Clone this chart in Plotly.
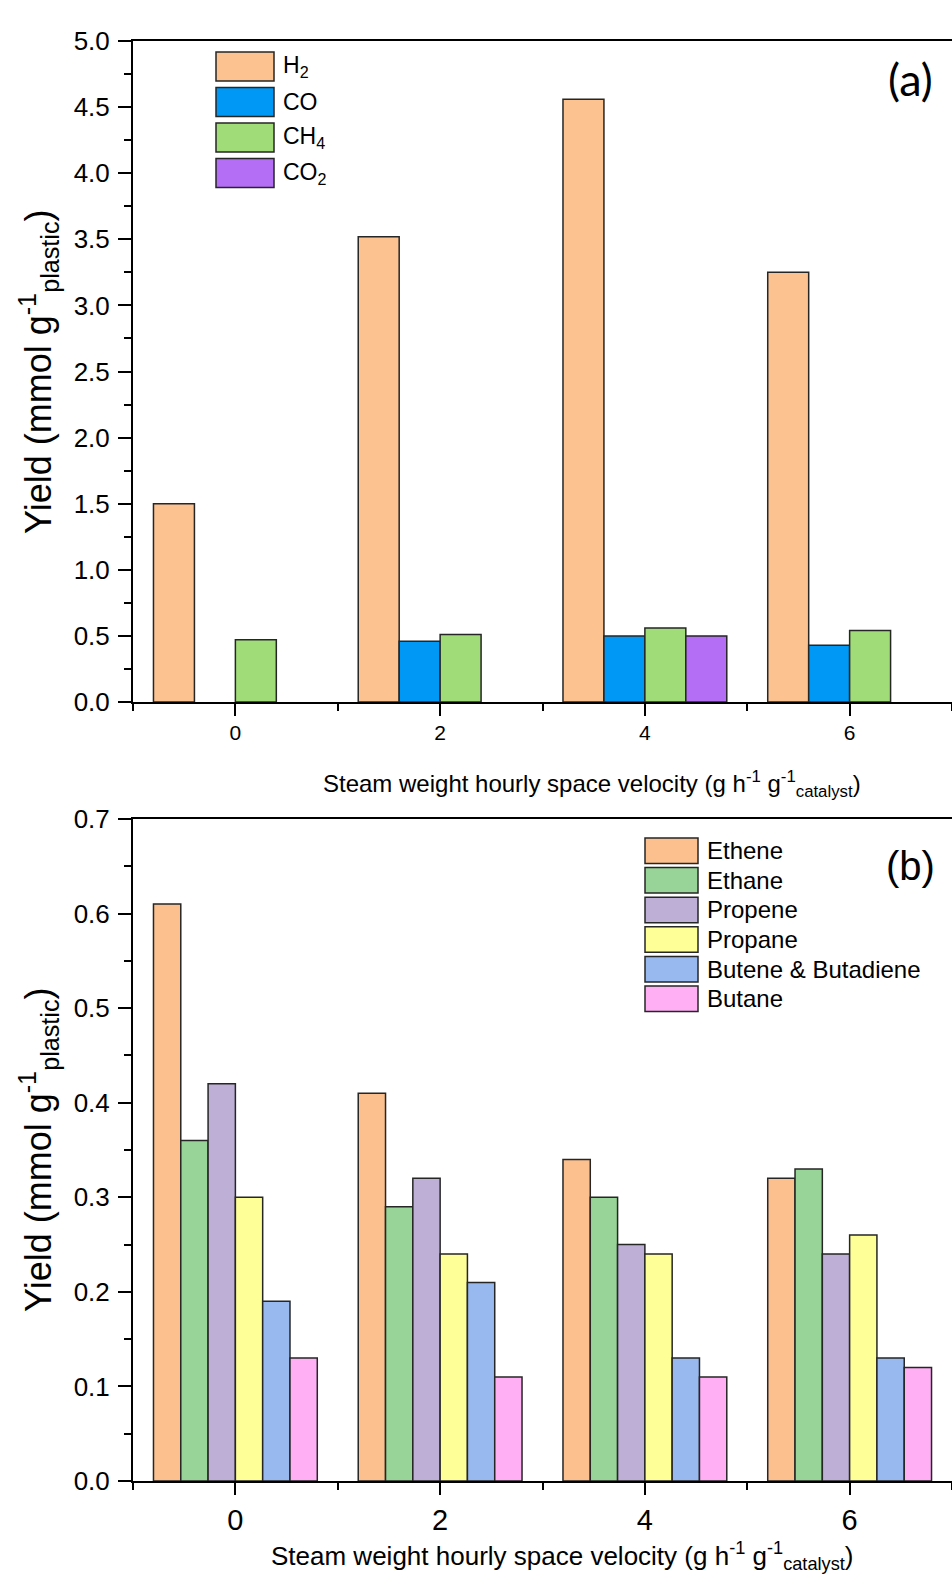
import plotly.graph_objects as go

# ---------------- data ----------------
x_vals = [0, 2, 4, 6]

gas_names = ["H<sub>2</sub>", "CO", "CH<sub>4</sub>", "CO<sub>2</sub>"]
h2 = [1.50, 3.52, 4.56, 3.25]
co = [None, 0.46, 0.50, 0.43]
ch4 = [0.47, 0.51, 0.56, 0.54]
co2 = [None, None, 0.50, None]
gas_series = [h2, co, ch4, co2]
gas_colors = ["#FCC290", "#0098F5", "#A0DC78", "#B46EF5"]

hc_names = ["Ethene", "Ethane", "Propene", "Propane", "Butene &amp; Butadiene", "Butane"]
ethene = [0.61, 0.41, 0.34, 0.32]
ethane = [0.36, 0.29, 0.30, 0.33]
propene = [0.42, 0.32, 0.25, 0.24]
propane = [0.30, 0.24, 0.24, 0.26]
butene = [0.19, 0.21, 0.13, 0.13]
butane = [0.13, 0.11, 0.11, 0.12]
hc_series = [ethene, ethane, propene, propane, butene, butane]
hc_colors = ["#FBC08E", "#98D498", "#BEAFD7", "#FFFF98", "#98B9EF", "#FFB0F5"]

y_title = "Yield (mmol g<sup>-1</sup><sub>plastic</sub>)"
x_title = "Steam weight hourly space velocity (g h<sup>-1</sup> g<sup>-1</sup><sub>catalyst</sub>)"

# ---------------- layout helpers ----------------
W, H = 952, 1578
FONT = 'Arial, "Liberation Sans", sans-serif'


def px(x):
    return x / W


def py(y):
    return 1 - y / H


fig = go.Figure()

for name, vals, col in zip(gas_names, gas_series, gas_colors):
    fig.add_trace(go.Bar(x=x_vals, y=vals, name=name, marker_color=col,
                         marker_line_color="#262626", marker_line_width=1.5,
                         xaxis="x", yaxis="y", showlegend=False))

for name, vals, col in zip(hc_names, hc_series, hc_colors):
    fig.add_trace(go.Bar(x=x_vals, y=vals, name=name, marker_color=col,
                         marker_line_color="#262626", marker_line_width=1.5,
                         xaxis="x2", yaxis="y2", showlegend=False))

axis_common = dict(showline=True, linecolor="black", linewidth=2, showgrid=False,
                   zeroline=False, ticks="outside", tickcolor="black", tickwidth=2,
                   automargin=False)

x_dom = [px(133), 1.0]
ya_dom = [py(702), py(41)]
yb_dom = [py(1481), py(819)]

fig.update_layout(
    width=W, height=H, margin=dict(l=0, r=0, t=0, b=0, pad=0, autoexpand=False),
    paper_bgcolor="white", plot_bgcolor="white",
    font=dict(family=FONT, color="black"),
    barmode="group", bargap=0.2, bargroupgap=0,
    showlegend=False,
    xaxis=dict(domain=x_dom, anchor="y", range=[-1, 7], tick0=0, dtick=2,
               ticklen=12, mirror=True, tickfont=dict(size=21, family=FONT),
               ticklabelstandoff=-1,
               minor=dict(dtick=1, ticklen=7, tickwidth=2, tickcolor="black", ticks="outside"),
               **axis_common),
    yaxis=dict(domain=ya_dom, anchor="x", range=[0, 5], tick0=0, dtick=0.5,
               tickformat=".1f", ticklen=13, tickfont=dict(size=26, family=FONT),
               ticklabelstandoff=3,
               minor=dict(dtick=0.25, ticklen=7, tickwidth=2, tickcolor="black", ticks="outside"),
               **axis_common),
    xaxis2=dict(domain=x_dom, anchor="y2", range=[-1, 7], tick0=0, dtick=2,
                ticklen=12, mirror=True, tickfont=dict(size=29, family=FONT),
                ticklabelstandoff=0,
                minor=dict(dtick=1, ticklen=7, tickwidth=2, tickcolor="black", ticks="outside"),
                **axis_common),
    yaxis2=dict(domain=yb_dom, anchor="x2", range=[0, 0.7], tick0=0, dtick=0.1,
                tickformat=".1f", ticklen=13, tickfont=dict(size=26, family=FONT),
                ticklabelstandoff=3,
                minor=dict(dtick=0.05, ticklen=7, tickwidth=2, tickcolor="black", ticks="outside"),
                **axis_common),
)

shapes = []
annots = []

# custom legend (a)
for i, (name, col) in enumerate(zip(gas_names, gas_colors)):
    top = 52 + i * 35.5
    shapes.append(dict(type="rect", xref="paper", yref="paper",
                       x0=px(216), x1=px(274), y0=py(top + 29), y1=py(top),
                       fillcolor=col, line=dict(color="#262626", width=1.5)))
    annots.append(dict(xref="paper", yref="paper", x=px(281), y=py(top + 14.5),
                       xanchor="left", yanchor="middle", showarrow=False,
                       text=name, font=dict(size=23, family=FONT)))

# custom legend (b)
for i, (name, col) in enumerate(zip(hc_names, hc_colors)):
    top = 838 + i * 29.6
    shapes.append(dict(type="rect", xref="paper", yref="paper",
                       x0=px(645), x1=px(698), y0=py(top + 25.5), y1=py(top),
                       fillcolor=col, line=dict(color="#262626", width=1.5)))
    annots.append(dict(xref="paper", yref="paper", x=px(705), y=py(top + 12.7),
                       xanchor="left", yanchor="middle", showarrow=False,
                       text=name, font=dict(size=24, family=FONT)))

# panel labels
annots.append(dict(xref="paper", yref="paper", x=px(910), y=py(79), xanchor="center",
                   yanchor="middle", showarrow=False, text="(a)",
                   font=dict(size=45, family="Lato, Open Sans, sans-serif")))
annots.append(dict(xref="paper", yref="paper", x=px(910), y=py(866), xanchor="center",
                   yanchor="middle", showarrow=False, text="(b)",
                   font=dict(size=40, family=FONT)))

# axis titles
annots.append(dict(xref="paper", yref="paper", x=px(38), y=py(372), textangle=-90,
                   xanchor="center", yanchor="middle", showarrow=False, text=y_title,
                   font=dict(size=36, family=FONT)))
annots.append(dict(xref="paper", yref="paper", x=px(38), y=py(1150), textangle=-90,
                   xanchor="center", yanchor="middle", showarrow=False, text=y_title,
                   font=dict(size=36, family=FONT)))
annots.append(dict(xref="paper", yref="paper", x=px(592), y=py(784),
                   xanchor="center", yanchor="middle", showarrow=False, text=x_title,
                   font=dict(size=24, family=FONT)))
annots.append(dict(xref="paper", yref="paper", x=px(562), y=py(1556),
                   xanchor="center", yanchor="middle", showarrow=False, text=x_title,
                   font=dict(size=26, family=FONT)))

fig.update_layout(shapes=shapes, annotations=annots)

fig.write_html("out.html")
